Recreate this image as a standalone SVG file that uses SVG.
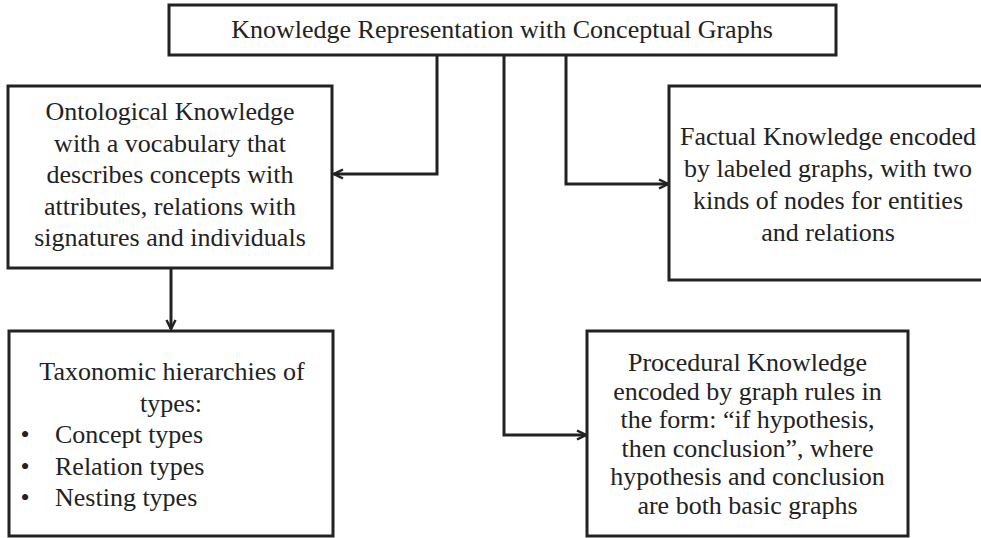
<svg xmlns="http://www.w3.org/2000/svg" width="981" height="538" viewBox="0 0 981 538">
<style>
.box{fill:#fff;stroke:#222;stroke-width:3}
.t{font-family:"Liberation Serif","Times New Roman",serif;font-size:26px;fill:#222;text-anchor:middle}
.l{text-anchor:start}
.c{fill:none;stroke:#222;stroke-width:3}
</style>
<defs>
<marker id="arr" viewBox="0 0 12 12" refX="11" refY="6" markerWidth="12" markerHeight="12" markerUnits="userSpaceOnUse" orient="auto">
<path d="M2,1.5 L11,6 L2,10.5" fill="none" stroke="#222" stroke-width="2.5"/>
</marker>
</defs>
<rect width="981" height="538" fill="#fff"/>
<g id="connectors">
<path class="c" d="M437,55 V174 H334" marker-end="url(#arr)"/>
<path class="c" d="M566,55 V184 H668" marker-end="url(#arr)"/>
<path class="c" d="M504,55 V435 H586" marker-end="url(#arr)"/>
<path class="c" d="M171,268 V329" marker-end="url(#arr)"/>
</g>
<g id="title">
<rect class="box" x="169" y="5" width="667" height="50"/>
<text class="t" x="502" y="38">Knowledge Representation with Conceptual Graphs</text>
</g>
<g id="ontological">
<rect class="box" x="8" y="86" width="324" height="182"/>
<text class="t" x="170" y="120">Ontological Knowledge</text>
<text class="t" x="170" y="151.5">with a vocabulary that</text>
<text class="t" x="170" y="183">describes concepts with</text>
<text class="t" x="170" y="214.5">attributes, relations with</text>
<text class="t" x="170" y="246">signatures and individuals</text>
</g>
<g id="factual">
<rect class="box" x="669" y="86" width="330" height="194"/>
<text class="t" x="828" y="145">Factual Knowledge encoded</text>
<text class="t" x="828" y="177">by labeled graphs, with two</text>
<text class="t" x="828" y="209">kinds of nodes for entities</text>
<text class="t" x="828" y="241">and relations</text>
</g>
<g id="taxonomic">
<rect class="box" x="9" y="331" width="324" height="205"/>
<text class="t" x="172" y="380">Taxonomic hierarchies of</text>
<text class="t" x="171" y="411.5">types:</text>
<text class="t" x="25" y="443">•</text>
<text class="t l" x="55" y="443">Concept types</text>
<text class="t" x="25" y="474.5">•</text>
<text class="t l" x="55" y="474.5">Relation types</text>
<text class="t" x="25" y="506">•</text>
<text class="t l" x="55" y="506">Nesting types</text>
</g>
<g id="procedural">
<rect class="box" x="587" y="331" width="321" height="205"/>
<text class="t" x="747.5" y="371">Procedural Knowledge</text>
<text class="t" x="747.5" y="399.5">encoded by graph rules in</text>
<text class="t" x="747.5" y="428">the form: “if hypothesis,</text>
<text class="t" x="747.5" y="456.5">then conclusion”, where</text>
<text class="t" x="747.5" y="485">hypothesis and conclusion</text>
<text class="t" x="747.5" y="513.5">are both basic graphs</text>
</g>
</svg>
